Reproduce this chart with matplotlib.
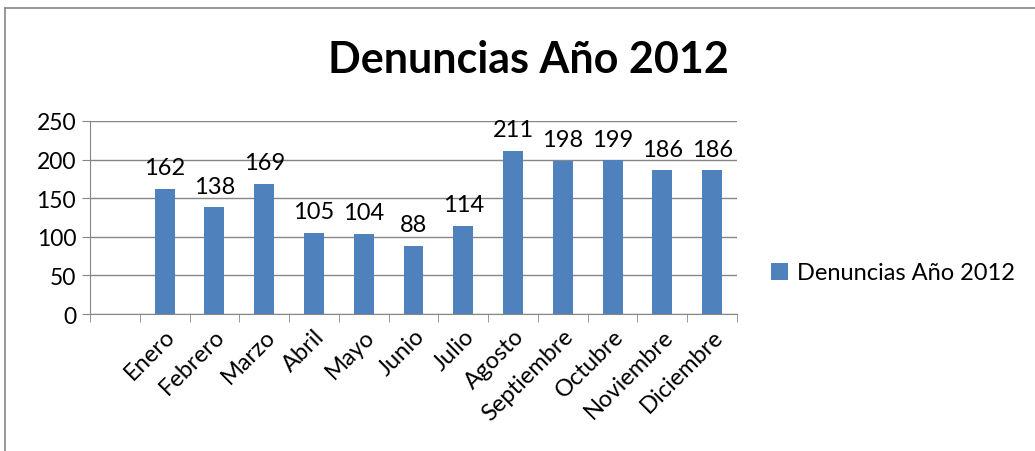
import matplotlib
matplotlib.use('Agg')
import matplotlib.pyplot as plt
from matplotlib.lines import Line2D
from matplotlib.ticker import FixedLocator

months = ['Enero', 'Febrero', 'Marzo', 'Abril', 'Mayo', 'Junio', 'Julio',
          'Agosto', 'Septiembre', 'Octubre', 'Noviembre', 'Diciembre']
values = [162, 138, 169, 105, 104, 88, 114, 211, 198, 199, 186, 186]
series_name = 'Denuncias Año 2012'
yticks = [0, 50, 100, 150, 200, 250]

plt.rcParams['font.family'] = ['Lato', 'DejaVu Sans']

BLUE = '#4f81bd'
GRID = '#868686'
FS = 17

fig = plt.figure(figsize=(10.35, 4.52), dpi=100)
ax = fig.add_axes([90 / 1035, 1 - 315 / 452, (737 - 90) / 1035, (315 - 122) / 452])

# first slot on the category axis is empty, as in the original sheet
pos = list(range(1, len(months) + 1))
bars = ax.bar(pos, values, width=0.4, color=BLUE, zorder=3, label=series_name)
for x, v in zip(pos, values):
    ax.text(x, v + 14, str(v), ha='center', va='bottom', fontsize=FS, zorder=4)

ax.set_xlim(-0.5, len(months) + 0.5)
ax.set_ylim(0, 250)
ax.set_yticks(yticks)
ax.set_yticklabels([str(t) for t in yticks], fontsize=16.5)
ax.yaxis.grid(True, color=GRID, linewidth=1, zorder=0)

ax.set_xticks(pos)
ax.set_xticklabels(months, rotation=45, ha='right', rotation_mode='anchor', fontsize=FS)
ax.xaxis.set_minor_locator(FixedLocator([i + 0.5 for i in range(-1, len(months) + 1)]))
ax.tick_params(axis='x', which='major', length=0, pad=8)
ax.tick_params(axis='x', which='minor', length=6, color=GRID, direction='out')
ax.tick_params(axis='y', length=6, color=GRID, direction='out', pad=4)

for s in ['top', 'right']:
    ax.spines[s].set_visible(False)
for s in ['left', 'bottom']:
    ax.spines[s].set_color(GRID)

fig.legend(handles=[bars], labels=[series_name], loc='center left',
           bbox_to_anchor=(750 / 1035, 1 - 274 / 452), frameon=False,
           fontsize=FS, handlelength=0.7, handleheight=0.7, handletextpad=0.4)

fig.text(528 / 1035, 1 - 60 / 452, series_name, ha='center', va='center',
         fontsize=31, fontweight='bold')

# outer chart frame (cropped at right and bottom)
fig.add_artist(Line2D([5 / 1035, 1], [1 - 9 / 452, 1 - 9 / 452], color=GRID, lw=1.2))
fig.add_artist(Line2D([5 / 1035, 5 / 1035], [0, 1 - 9 / 452], color=GRID, lw=1.2))

fig.savefig('out.png', dpi=100)
